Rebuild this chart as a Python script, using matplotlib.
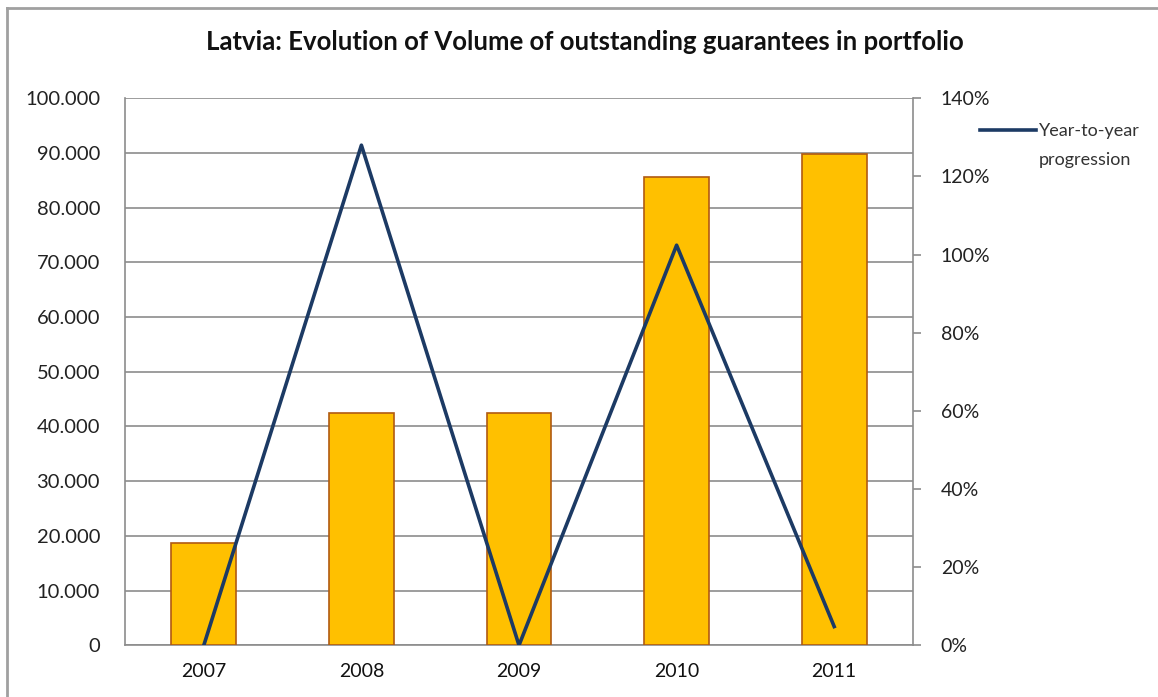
import matplotlib
matplotlib.use("Agg")
import matplotlib.pyplot as plt
from matplotlib.ticker import FuncFormatter, MultipleLocator
from matplotlib.lines import Line2D

# Data
years = ["2007", "2008", "2009", "2010", "2011"]
volume = [18650, 42400, 42400, 85700, 89800]          # outstanding guarantees
progression = [0.0, 128.0, 0.0, 102.4, 4.8]            # year-to-year change, %

plt.rcParams["font.family"] = ["Lato", "DejaVu Sans"]

fig = plt.figure(figsize=(11.58, 6.97), dpi=100)
ax = fig.add_axes([125 / 1158, 1 - 645.3 / 697, 788 / 1158, 547 / 697])

x = list(range(len(years)))
ax.bar(x, volume, width=0.41, color="#FFC000", edgecolor="#B05A12",
       linewidth=1.2, zorder=3)

ax.set_xlim(-0.5, len(years) - 0.5)
ax.set_ylim(0, 100000)
ax.yaxis.set_major_locator(MultipleLocator(10000))
ax.yaxis.set_major_formatter(
    FuncFormatter(lambda v, p: "0" if v == 0 else f"{int(v):,}".replace(",", ".")))
ax.set_xticks(x)
ax.set_xticklabels(years)
ax.grid(axis="y", color="#8C8C8C", linewidth=1.2, zorder=0)
ax.tick_params(axis="y", length=0, pad=18, labelsize=14.5, labelcolor="#222222")
ax.tick_params(axis="x", length=0, pad=13, labelsize=14, labelcolor="#111111")
for s in ["top", "right"]:
    ax.spines[s].set_visible(False)
for s in ["left", "bottom"]:
    ax.spines[s].set_color("#8C8C8C")
    ax.spines[s].set_linewidth(1.2)

ax2 = ax.twinx()
ax2.plot(x, progression, color="#1C3A64", linewidth=2.6, zorder=4)
ax2.set_ylim(0, 140)
ax2.yaxis.set_major_locator(MultipleLocator(20))
ax2.yaxis.set_major_formatter(FuncFormatter(lambda v, p: f"{int(v)}%"))
ax2.tick_params(axis="y", length=6, width=1.2, color="#8C8C8C", pad=14,
                labelsize=14, labelcolor="#222222")
for s in ["top", "left", "bottom"]:
    ax2.spines[s].set_visible(False)
ax2.spines["right"].set_color("#8C8C8C")
ax2.spines["right"].set_linewidth(1.2)

fig.text(585 / 1158, 1 - 42 / 697,
         "Latvia: Evolution of Volume of outstanding guarantees in portfolio",
         ha="center", va="center", fontsize=18.5, fontweight="bold", color="#111111")

# Legend entry
fig.add_artist(Line2D([980 / 1158, 1036 / 1158], [1 - 130 / 697, 1 - 130 / 697],
                      color="#1C3A64", linewidth=2.6))
fig.text(1039 / 1158, 1 - 131 / 697, "Year-to-year", ha="left", va="center",
         fontsize=13, color="#333333")
fig.text(1039 / 1158, 1 - 160 / 697, "progression", ha="left", va="center",
         fontsize=13, color="#333333")

# Chart frame (top and left edges)
fig.add_artist(Line2D([7 / 1158, 1], [1 - 8 / 697, 1 - 8 / 697],
                      color="#A0A0A0", linewidth=2))
fig.add_artist(Line2D([7 / 1158, 7 / 1158], [0, 1 - 8 / 697],
                      color="#A0A0A0", linewidth=2))

fig.savefig("out.png", dpi=100, facecolor="white")
